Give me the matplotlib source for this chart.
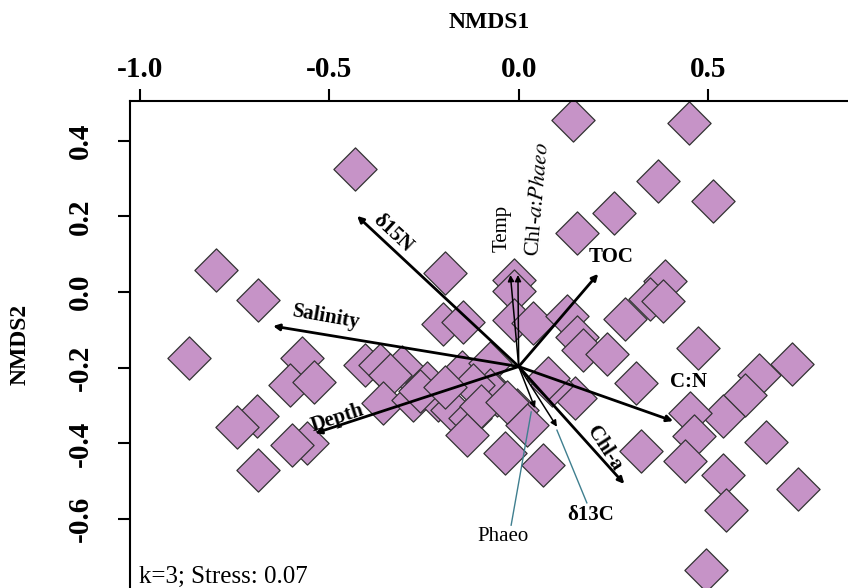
import matplotlib
matplotlib.use("Agg")
import matplotlib.pyplot as plt

plt.rcParams['font.family'] = ['Liberation Serif', 'DejaVu Serif']
plt.rcParams['mathtext.fontset'] = 'stix'

# site scores (NMDS1, NMDS2)
site_x = [-0.432, -0.799, -0.689, -0.871, -0.572, -0.604, -0.541, -0.691, -0.744,
          -0.559, -0.599, -0.689,
          0.143, 0.450, 0.368, 0.513, 0.252, 0.154, -0.195, -0.012, -0.012, 0.387,
          0.347, 0.381, 0.281, -0.200, -0.147, -0.012, 0.038, 0.128, 0.154, 0.170,
          0.233, 0.474, 0.722, 0.635, 0.598, 0.540, 0.453, 0.464, 0.440, 0.654,
          0.540, 0.548, 0.738, 0.323, 0.310, 0.495, 0.149,
          -0.405, -0.366, -0.308, -0.340, -0.242, -0.150, -0.076, -0.358, -0.279,
          -0.213, -0.176, -0.129, -0.057, -0.004, -0.137, -0.036, 0.064, 0.022,
          0.088, -0.076, -0.120, 0.077, -0.260, -0.195, -0.100, -0.030]
site_y = [0.325, 0.058, -0.021, -0.174, -0.174, -0.246, -0.238, -0.328, -0.357,
          -0.399, -0.404, -0.470,
          0.454, 0.446, 0.293, 0.240, 0.209, 0.156, 0.050, 0.032, 0.003, 0.029,
          -0.018, -0.024, -0.071, -0.085, -0.079, -0.074, -0.082, -0.063, -0.119, -0.153,
          -0.163, -0.148, -0.190, -0.219, -0.272, -0.328, -0.320, -0.380, -0.447, -0.396,
          -0.483, -0.576, -0.520, -0.420, -0.240, -0.734, -0.280,
          -0.193, -0.193, -0.198, -0.219, -0.240, -0.211, -0.188, -0.293, -0.285,
          -0.285, -0.312, -0.333, -0.272, -0.312, -0.378, -0.425, -0.457, -0.351,
          -0.246, -0.259, -0.246, -0.227, -0.262, -0.250, -0.300, -0.290]

# environmental vectors, drawn from a common origin
vec_origin = (0.0, -0.197)
vec_names = ['δ15N', 'Salinity', 'Depth', 'Temp', 'Chl-a:Phaeo', 'TOC', 'C:N',
             'Chl-a', 'δ13C', 'Phaeo']
vec_x = [-0.427, -0.649, -0.538, -0.022, -0.002, 0.210, 0.408, 0.279, 0.101, 0.043]
vec_y = [0.201, -0.090, -0.373, 0.045, 0.045, 0.048, -0.341, -0.507, -0.356, -0.307]

xticks = [-1.0, -0.5, 0.0, 0.5]
yticks = [-0.6, -0.4, -0.2, 0.0, 0.2, 0.4]

fig = plt.figure(figsize=(8.48, 5.88), dpi=100)
ax = fig.add_axes([130 / 848, 0, 718 / 848, 487 / 588])
ax.set_xlim(-1.027, 0.870)
ax.set_ylim(-0.782, 0.5046)

ax.scatter(site_x, site_y, marker='D', s=22 ** 2, facecolor='#c693c7',
           edgecolor='#333333', linewidth=0.9, zorder=2)

# arrows: thin ones for the weaker variables
thin = {'Temp', 'Chl-a:Phaeo', 'δ13C', 'Phaeo'}
for name, x, y in zip(vec_names, vec_x, vec_y):
    lw = 1.1 if name in thin else 2.0
    ax.annotate('', xy=(x, y), xytext=vec_origin,
                arrowprops=dict(arrowstyle='-|>', color='black', lw=lw,
                                mutation_scale=9, shrinkA=0, shrinkB=0),
                zorder=3)

# leader lines for the two labels placed below
ax.plot([0.180, 0.101], [-0.557, -0.365], color='#3f7f8f', lw=1.0, zorder=3)
ax.plot([-0.020, 0.033], [-0.616, -0.317], color='#3f7f8f', lw=1.0, zorder=3)

lab = dict(fontsize=15, ha='center', va='center', zorder=4)
ax.text(-0.332, 0.156, 'δ15N', rotation=-43, fontweight='bold', **lab)
ax.text(-0.507, -0.066, 'Salinity', rotation=-10, fontweight='bold', **lab)
ax.text(-0.480, -0.333, 'Depth', rotation=18, fontweight='bold', **lab)
ax.text(-0.044, 0.169, 'Temp', rotation=90, **lab)
ax.text(0.051, 0.246, r'Chl-$a$:$Phaeo$', rotation=85, fontsize=16,
        ha='center', va='center', zorder=4)
ax.text(0.244, 0.093, 'TOC', fontweight='bold', **lab)
ax.text(0.448, -0.238, 'C:N', fontweight='bold', **lab)
ax.text(0.228, -0.412, r'Chl-$\mathbf{a}$', rotation=-57, fontweight='bold', **lab)
ax.text(0.189, -0.589, 'δ13C', fontweight='bold', **lab)
ax.text(-0.041, -0.647, 'Phaeo', **lab)

ax.text(-1.003, -0.781, 'k=3; Stress: 0.07', fontsize=18, ha='left', va='bottom')

ax.spines['right'].set_visible(False)
ax.spines['bottom'].set_visible(False)
ax.spines['top'].set_linewidth(1.5)
ax.spines['left'].set_linewidth(1.5)

ax.xaxis.tick_top()
ax.xaxis.set_label_position('top')
ax.set_xticks(xticks)
ax.set_xticklabels([f'{t:.1f}' for t in xticks])
ax.set_yticks(yticks)
ax.set_yticklabels([f'{t:.1f}' for t in yticks], rotation=90, va='center')
ax.tick_params(axis='both', direction='out', length=9, width=1.5, labelsize=21)
ax.tick_params(axis='x', pad=4)
ax.tick_params(axis='y', pad=17)
for t in ax.get_xticklabels() + ax.get_yticklabels():
    t.set_fontweight('bold')

ax.set_xlabel('NMDS1', fontsize=17, fontweight='bold', labelpad=20)
ax.set_ylabel('NMDS2', fontsize=17, fontweight='bold', labelpad=26)

fig.savefig('out.png', dpi=100)
